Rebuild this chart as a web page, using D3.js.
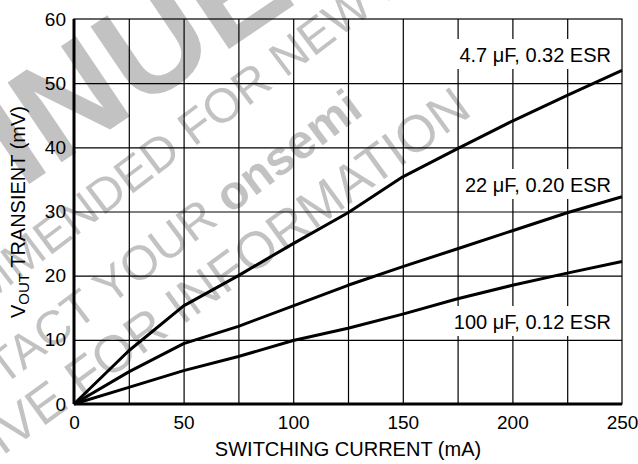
<!DOCTYPE html>
<html>
<head>
<meta charset="utf-8">
<script src="https://cdn.jsdelivr.net/npm/d3@7"></script>
<style>
  body { margin: 0; background: #fff; }
  text { font-family: "Liberation Sans", Arial, Helvetica, sans-serif; }
</style>
</head>
<body>
<div id="chart"></div>
<script>
// Data
const current = [0, 25, 50, 75, 100, 125, 150, 175, 200, 225, 250];
const cap47 = [0, 8.3, 15.3, 20.0, 25.0, 29.8, 35.4, 39.8, 44.1, 48.1, 52.0];
const cap22 = [0, 5.0, 9.4, 12.1, 15.3, 18.5, 21.4, 24.2, 27.0, 29.8, 32.3];
const cap100 = [0, 2.6, 5.2, 7.4, 9.9, 11.8, 14.0, 16.4, 18.5, 20.4, 22.2];
const seriesLabels = ['4.7 \u03BCF, 0.32 ESR', '22 \u03BCF, 0.20 ESR', '100 \u03BCF, 0.12 ESR'];
const xTicks = [0, 50, 100, 150, 200, 250];
const yTicks = [0, 10, 20, 30, 40, 50, 60];

const W = 638, H = 464;
const margin = { top: 19, right: 16, bottom: 60, left: 74 };
const w = W - margin.left - margin.right;
const h = H - margin.top - margin.bottom;

const svg = d3.select('#chart')
  .append('svg')
  .attr('width', W)
  .attr('height', H);

// watermark, sits under everything
const wm = svg.append('g').attr('fill', '#c2c2c2');

function mark(parts, idx, px, py, size, angle) {
  const t = wm.append('text')
    .attr('font-size', size)
    .attr('dy', '0.35em');
  parts.forEach(p => t.append('tspan').attr('font-weight', p[1]).text(p[0]));
  const n = t.node();
  const off = n.getSubStringLength(0, idx) + n.getSubStringLength(idx, 1) / 2;
  t.attr('transform', `translate(${px},${py}) rotate(${angle}) translate(${-off},0)`);
}

mark([['DISCONTINUED', 'bold']], 9, 152, 42, 140, -34);
mark([['NOT RECOMMENDED FOR NEW DESIGN', 'normal']], 17, 222, 105, 48, -37);
mark([['CONTACT YOUR ', 'normal'], ['onsemi', 'bold']], 15, 278, 158, 48, -37);
mark([['REPRESENTATIVE FOR INFORMATION', 'normal']], 24, 320, 203, 52, -36);

const g = svg.append('g')
  .attr('transform', `translate(${margin.left},${margin.top})`);

const x = d3.scaleLinear().domain([0, 250]).range([0, w]);
const y = d3.scaleLinear().domain([0, 60]).range([h, 0]);

// grid
g.append('g')
  .call(d3.axisBottom(x).tickValues(d3.range(25, 250, 25)).tickSize(-h).tickFormat(''))
  .attr('transform', `translate(0,${h})`)
  .call(a => a.select('.domain').remove())
  .selectAll('line').attr('stroke', '#000').attr('stroke-width', 1.2);

g.append('g')
  .call(d3.axisLeft(y).tickValues(yTicks.slice(1, -1)).tickSize(-w).tickFormat(''))
  .call(a => a.select('.domain').remove())
  .selectAll('line').attr('stroke', '#000').attr('stroke-width', 1.2);

// frame: thin top/right, heavy left/bottom
g.append('rect')
  .attr('width', w).attr('height', h)
  .attr('fill', 'none').attr('stroke', '#000').attr('stroke-width', 1.2);
g.append('line').attr('x1', 0).attr('x2', 0).attr('y1', 0).attr('y2', h)
  .attr('stroke', '#000').attr('stroke-width', 3);
g.append('line').attr('x1', 0).attr('x2', w).attr('y1', h).attr('y2', h)
  .attr('stroke', '#000').attr('stroke-width', 3);

// curve labels with white backing
const labelPos = [[537, 43], [537, 173], [537, 310]];
seriesLabels.forEach((s, i) => {
  const t = g.append('text')
    .attr('x', labelPos[i][0])
    .attr('y', labelPos[i][1])
    .attr('text-anchor', 'end')
    .attr('font-size', 20)
    .attr('fill', '#000')
    .text(s);
  const b = t.node().getBBox();
  g.insert('rect', () => t.node())
    .attr('x', b.x - 3).attr('y', b.y - 5)
    .attr('width', b.width + 6).attr('height', b.height + 8)
    .attr('fill', '#fff');
});

// curves
const line = d3.line()
  .x((d, i) => x(current[i]))
  .y(d => y(d));

[cap47, cap22, cap100].forEach(s => {
  g.append('path')
    .datum(s)
    .attr('d', line)
    .attr('fill', 'none')
    .attr('stroke', '#000')
    .attr('stroke-width', 3)
    .attr('stroke-linejoin', 'round');
});

// tick labels
g.append('g')
  .attr('transform', `translate(0,${h})`)
  .call(d3.axisBottom(x).tickValues(xTicks).tickSize(0).tickPadding(12))
  .call(a => a.select('.domain').remove())
  .selectAll('text')
  .attr('font-size', 19)
  .attr('font-family', null)
  .attr('fill', '#000');

g.append('g')
  .call(d3.axisLeft(y).tickValues(yTicks).tickSize(0).tickPadding(8))
  .call(a => a.select('.domain').remove())
  .selectAll('text')
  .attr('font-size', 19)
  .attr('font-family', null)
  .attr('fill', '#000');

// axis titles
svg.append('text')
  .attr('x', margin.left + w / 2)
  .attr('y', 456)
  .attr('text-anchor', 'middle')
  .attr('font-size', 20)
  .text('SWITCHING CURRENT (mA)');

const yt = svg.append('text')
  .attr('transform', 'translate(25,212) rotate(-90)')
  .attr('text-anchor', 'middle')
  .attr('font-size', 20);
yt.append('tspan').text('V');
yt.append('tspan').attr('font-size', 15).attr('dy', 4).text('OUT');
yt.append('tspan').attr('dy', -4).text(' TRANSIENT (mV)');
</script>
</body>
</html>
